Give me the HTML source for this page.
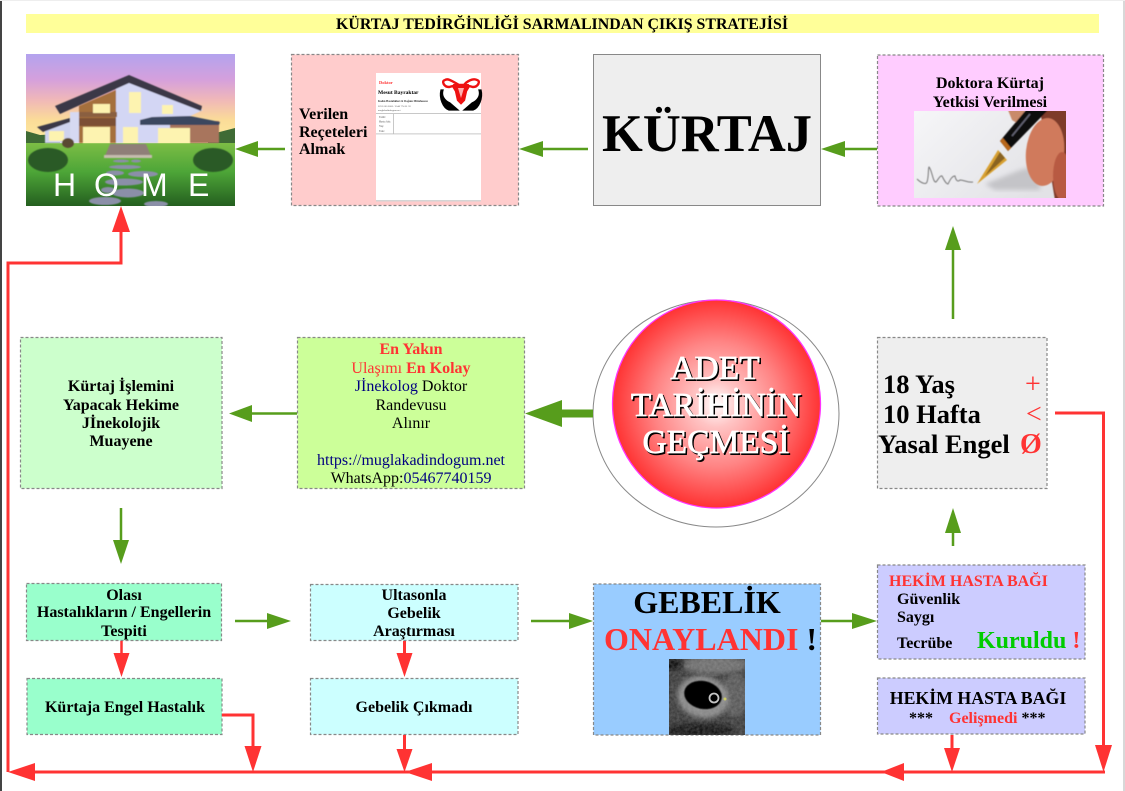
<!DOCTYPE html>
<html><head><meta charset="utf-8"><style>
html,body{margin:0;padding:0;background:#fff;width:1125px;height:791px;overflow:hidden}
svg{display:block}
text{font-family:"Liberation Serif",serif}
.b{font-weight:bold}
.c{text-anchor:middle}
.t15{font-size:16px;font-weight:bold;text-anchor:middle;fill:#000}
.r15{font-size:16px;text-anchor:middle;fill:#000}
.box{stroke:#888;stroke-width:1.2;stroke-dasharray:3 2}
</style></head><body>
<svg width="1125" height="791" viewBox="0 0 1125 791" xmlns="http://www.w3.org/2000/svg">
<defs>
<linearGradient id="sky" x1="0" y1="0" x2="0" y2="1"><stop offset="0" stop-color="#b3a3ee"/><stop offset=".28" stop-color="#d5a0dc"/><stop offset=".5" stop-color="#f0b8b8"/><stop offset=".72" stop-color="#fbdc98"/><stop offset="1" stop-color="#fdeea0"/></linearGradient>
<linearGradient id="grass" x1="0" y1="0" x2="0" y2="1"><stop offset="0" stop-color="#7cbd45"/><stop offset=".45" stop-color="#4ea638"/><stop offset="1" stop-color="#245f1f"/></linearGradient>
<radialGradient id="ball" cx=".5" cy=".5" r=".5"><stop offset="0" stop-color="#fff"/><stop offset=".22" stop-color="#ffc4c4"/><stop offset=".6" stop-color="#ff8484"/><stop offset="1" stop-color="#ff3333"/></radialGradient>
<linearGradient id="paper" x1="0" y1="0" x2="1" y2=".6"><stop offset="0" stop-color="#f6f6f8"/><stop offset="1" stop-color="#e2e2e6"/></linearGradient>
<filter id="bl05"><feGaussianBlur stdDeviation=".5"/></filter>
<filter id="bl1"><feGaussianBlur stdDeviation="1"/></filter>
<filter id="bl2"><feGaussianBlur stdDeviation="2.5"/></filter>
<filter id="noise" x="0" y="0" width="100%" height="100%"><feTurbulence type="fractalNoise" baseFrequency=".35" numOctaves="2" seed="4"/><feColorMatrix values="0 0 0 0 .5  0 0 0 0 .5  0 0 0 0 .5  .9 0 0 0 -.2"/></filter>
<clipPath id="hc"><rect x="26" y="54" width="209" height="152"/></clipPath>
<clipPath id="pc"><rect x="914" y="111" width="152" height="87"/></clipPath>
<clipPath id="uc"><rect x="669" y="659" width="76" height="76"/></clipPath>
</defs>
<rect width="1125" height="791" fill="#fff"/>
<rect x="0" y="0" width="2" height="791" fill="#444"/>
<rect x="1123" y="0" width="2" height="791" fill="#d8d8d8"/>
<rect x="0" y="0" width="1125" height="1" fill="#eee"/>

<!-- title -->
<rect x="26" y="14" width="1073" height="19" fill="#ffff99"/>
<text x="562" y="29" class="b c" font-size="16" textLength="452" lengthAdjust="spacingAndGlyphs">KÜRTAJ TEDİRĞİNLİĞİ SARMALINDAN ÇIKIŞ STRATEJİSİ</text>

<!-- HOME image -->
<g clip-path="url(#hc)">
<rect x="26" y="54" width="209" height="92" fill="url(#sky)"/>
<path d="M26 131L40 135L60 134V146H26ZM208 135L235 128V146H208Z" fill="#3f6b35"/>
<rect x="26" y="143" width="209" height="63" fill="url(#grass)"/>
<g filter="url(#bl05)">
<path d="M116 88L130 78L203 110L186 118H170V143H116Z" fill="#d3d6f4"/>
<path d="M79 106L116 90V143H79Z" fill="#a5703c"/>
<path d="M79 112H70V143H79Z" fill="#d6d9f2"/>
<path d="M45 128L70 122V143H45Z" fill="#cfd3ee"/>
<path d="M170 121H219V143H170Z" fill="#a8755d"/>
<path d="M55 106L129 75L202 106L201 111L129 83L60 114Z" fill="#3a3846"/>
<path d="M37 127L70 118V122L43 132Z" fill="#3a3846"/>
<path d="M140 120L152 117L190 116L220 122L219 125H140Z" fill="#3b465e"/>
<rect x="79" y="112" width="38" height="5" fill="#8a5f40"/>
<rect x="79" y="118" width="37" height="8" fill="#7b4f35"/>
<g fill="#fdf3b0">
<rect x="93" y="104" width="17" height="9"/>
<rect x="129" y="92" width="12" height="21"/>
<rect x="162" y="105" width="11" height="9"/>
<rect x="83" y="127" width="27" height="16"/>
<rect x="123" y="127" width="15" height="16"/>
<rect x="158" y="128" width="32" height="15"/>
<rect x="49" y="131" width="15" height="10"/>
</g>
<path d="M110 144H146L151 156H105Z" fill="#8f7f78"/>
<rect x="104" y="155" width="48" height="3" fill="#c5bcae"/>
<ellipse cx="48" cy="160" rx="20" ry="12" fill="#2c5a25"/>
<ellipse cx="213" cy="160" rx="20" ry="12" fill="#2c5a25"/>
<ellipse cx="68" cy="143" rx="6" ry="5" fill="#5a4a30"/>
<g fill="#8b8fa8">
<ellipse cx="121" cy="161" rx="8" ry="1.5"/><ellipse cx="136" cy="161" rx="5" ry="1.5"/>
<ellipse cx="125" cy="167" rx="16" ry="2"/><ellipse cx="115" cy="173" rx="9" ry="2.5"/>
<ellipse cx="143" cy="174" rx="15" ry="3"/><ellipse cx="124" cy="182" rx="19" ry="3.5"/>
<ellipse cx="108" cy="190" rx="7" ry="3"/><ellipse cx="128" cy="193" rx="16" ry="4.5"/>
<ellipse cx="105" cy="201" rx="16" ry="4"/><ellipse cx="156" cy="204" rx="12" ry="3"/>
</g>
</g>
<text y="196" font-size="32" fill="#fff" style="font-family:'Liberation Sans',sans-serif"><tspan x="53">H</tspan><tspan x="94">O</tspan><tspan x="141">M</tspan><tspan x="188">E</tspan></text>
</g>

<!-- Recete -->
<rect x="291.500" y="54.500" width="227" height="151" fill="#ffcccc" class="box"/>
<text x="299" y="119" class="b" font-size="16">Verilen</text>
<text x="299" y="137" class="b" font-size="16">Reçeteleri</text>
<text x="299" y="154" class="b" font-size="16">Almak</text>
<rect x="376" y="73" width="105" height="128" fill="#fff"/>
<rect x="376" y="200" width="105" height="1.500" fill="#d5d5d5"/>
<text x="379" y="84" font-size="4.500" class="b" fill="#ff3333">Doktor</text>
<text x="378" y="94" font-size="5.500" class="b">Mesut Bayraktar</text>
<text x="378" y="102" font-size="2.800" class="b" fill="#333">Kadın Hastalıkları &amp; Doğum Mütehassısı</text>
<text x="378" y="107" font-size="2.500" fill="#555">0252 000 0000 / 0546 774 01 59</text>
<text x="378" y="111" font-size="2.500" fill="#555">muglakadindogum.net</text>
<rect x="376" y="113" width="105" height=".8" fill="#bbb"/>
<rect x="376" y="133.500" width="105" height=".8" fill="#bbb"/>
<rect x="393" y="114" width=".8" height="20" fill="#bbb"/>
<g font-size="2.800" fill="#555"><text x="379" y="118">Tarih:</text><text x="379" y="122.500">Hasta Adı:</text><text x="379" y="127">Yaş:</text><text x="379" y="132">Tanı:</text></g>
<path d="M459 85C452 81 448 78 445 80C441 81 444 87 449 87L453 86L456 91L458 100L461 103L464 100L466 91L469 86L473 87C478 87 481 81 477 80C473 78 467 81 464 85Z" fill="none" stroke="#ee1111" stroke-width="2.400"/>
<path d="M453 84H469L463 102H459Z" fill="#ee1111"/>
<path d="M458 88L461 98L464 88Z" fill="#ffb0b0"/>
<path d="M443 90C441 96 445 101 450 103L458 110H449C443 108 439 98 441 90ZM479 90C481 96 477 101 472 103L464 110H473C479 108 483 98 481 90Z" fill="#000" stroke="#000" stroke-width="1.300"/>

<!-- KURTAJ -->
<rect x="593.500" y="54.500" width="227" height="151" fill="#eee" stroke="#888"/>
<text x="707" y="151" class="b c" font-size="53" textLength="210" lengthAdjust="spacingAndGlyphs">KÜRTAJ</text>

<!-- Doktora -->
<rect x="877.500" y="55" width="226" height="151" fill="#ffccff" class="box"/>
<text x="990" y="88" class="t15">Doktora Kürtaj</text>
<text x="990" y="107" class="t15">Yetkisi Verilmesi</text>
<g clip-path="url(#pc)">
<rect x="914" y="111" width="152" height="87" fill="url(#paper)"/>
<path d="M985 184L1020 170L1040 165V190H995Z" fill="#c4c4c8" filter="url(#bl2)"/>
<g filter="url(#bl05)">
<path d="M1008 110H1025L1020 125L1012 120Z" fill="#c98a6a"/>
<path d="M1040 110H1068V200H1055Z" fill="#7e3a2a"/>
<ellipse cx="1045" cy="152" rx="19" ry="34" transform="rotate(6 1045 152)" fill="#d07a5c"/>
<ellipse cx="1062" cy="176" rx="9" ry="24" fill="#b85a42"/>
<path d="M1026 110L1000 141L1008 151L1048 110Z" fill="#0d0d0d"/>
<path d="M1030 114L1012 136" stroke="#667" stroke-width="1.500"/>
<path d="M1000 141L1008 151L1011 148L1003 138Z" fill="#b8671c"/>
<path d="M998 150L1007 160L977 184Z" fill="#d8a030"/>
<path d="M1000 152L1005 158L985 176Z" fill="#8a6420"/>
<path d="M917 179C921 183 926 185 927 182C929 176 928 168 929 167C932 170 933 183 936 182C938 180 940 175 942 176C944 180 946 184 948 184C950 180 952 176 955 176C956 181 958 182 960 180C964 180 968 183 973 182" fill="none" stroke="#777" stroke-width="1"/>
</g>
</g>

<!-- circle -->
<ellipse cx="716" cy="413.500" rx="123" ry="113.500" fill="#fff" stroke="#888"/>
<circle cx="716.500" cy="404" r="104" fill="url(#ball)" stroke="#ff33ff" stroke-width="1.300"/>
<g font-size="33.500" text-anchor="middle">
<g fill="#000" transform="translate(1.400,1.400)" stroke="#000" stroke-width=".9"><text x="715" y="379">ADET</text><text x="716" y="416">TARİHİNİN</text><text x="716" y="453">GEÇMESİ</text></g>
<g fill="#fff" stroke="#fff" stroke-width=".7"><text x="715" y="379">ADET</text><text x="716" y="416">TARİHİNİN</text><text x="716" y="453">GEÇMESİ</text></g>
</g>

<!-- 18 yas -->
<rect x="877.500" y="337.500" width="169.500" height="151" fill="#eee" class="box"/>
<g font-size="26.500" font-weight="bold">
<text x="883" y="393">18 Yaş</text><text x="883" y="423">10 Hafta</text><text x="878" y="453">Yasal Engel</text>
</g>
<g font-size="28" fill="#ff3333"><text x="1025" y="393">+</text><text x="1026" y="423">&lt;</text><text x="1020" y="453" font-weight="bold">Ø</text></g>

<!-- left green -->
<rect x="20.500" y="337.500" width="201.500" height="151" fill="#ccffcc" class="box"/>
<text x="121" y="391" class="t15">Kürtaj İşlemini</text>
<text x="121" y="410" class="t15">Yapacak Hekime</text>
<text x="121" y="428" class="t15">Jİnekolojik</text>
<text x="121" y="446" class="t15">Muayene</text>

<!-- whatsapp -->
<rect x="297.500" y="337.500" width="227" height="151" fill="#ccff99" class="box"/>
<text x="411" y="354" class="t15" style="fill:#ff3333">En Yakın</text>
<text x="411" y="373" class="r15" style="fill:#ff3333">Ulaşımı <tspan font-weight="bold">En Kolay</tspan></text>
<text x="411" y="391" class="r15"><tspan fill="#000080">Jİnekolog</tspan> Doktor</text>
<text x="411" y="410" class="r15">Randevusu</text>
<text x="411" y="428" class="r15">Alınır</text>
<text x="411" y="465" class="r15" style="fill:#000080">https://muglakadindogum.net</text>
<text x="411" y="483" class="r15">WhatsApp:<tspan fill="#000080">05467740159</tspan></text>

<!-- bottom boxes -->
<rect x="26.500" y="583.500" width="195" height="57" fill="#99ffcc" class="box"/>
<text x="124" y="600" class="t15">Olası</text>
<text x="124" y="617" class="t15">Hastalıkların / Engellerin</text>
<text x="124" y="636" class="t15">Tespiti</text>
<rect x="27" y="678.500" width="195" height="56" fill="#99ffcc" class="box"/>
<text x="125" y="712" class="t15">Kürtaja Engel Hastalık</text>

<rect x="310.500" y="584.500" width="207.500" height="56" fill="#ccffff" class="box"/>
<text x="414" y="600" class="t15">Ultasonla</text>
<text x="414" y="618" class="t15">Gebelik</text>
<text x="414" y="636" class="t15">Araştırması</text>
<rect x="310.500" y="678.500" width="207.500" height="56" fill="#ccffff" class="box"/>
<text x="414" y="712" class="t15">Gebelik Çıkmadı</text>

<rect x="593.500" y="584" width="227" height="151" fill="#99ccff" class="box"/>
<text x="707" y="613" class="b c" font-size="32" font-weight="bold">GEBELİK</text>
<text x="604" y="650" font-size="32"><tspan fill="#ff3333" font-weight="bold">ONAYLANDI</tspan><tspan font-weight="bold"> !</tspan></text>
<g clip-path="url(#uc)">
<rect x="669" y="659" width="76" height="76" fill="#3c3c3c"/>
<ellipse cx="715" cy="665" rx="32" ry="9" fill="#707070" filter="url(#bl2)"/>
<ellipse cx="672" cy="664" rx="10" ry="6" fill="#111" filter="url(#bl2)"/>
<ellipse cx="735" cy="695" rx="14" ry="22" fill="#5a5a5a" filter="url(#bl2)"/>
<ellipse cx="700" cy="730" rx="34" ry="7" fill="#161616" filter="url(#bl2)"/>
<ellipse cx="703" cy="697" rx="26" ry="21" transform="rotate(12 703 697)" fill="#8a8a8a" filter="url(#bl2)"/>
<rect x="669" y="659" width="76" height="76" filter="url(#noise)" opacity=".45"/>
<ellipse cx="703" cy="695" rx="19" ry="14" transform="rotate(12 703 695)" fill="#000" filter="url(#bl05)"/>
<circle cx="714" cy="698" r="4.500" fill="none" stroke="#c4c4c4" stroke-width="1.800"/>
<circle cx="725" cy="699" r="1.500" fill="#cc6"/>
</g>

<rect x="877.500" y="565" width="207.500" height="94" fill="#ccccff" class="box"/>
<text x="889" y="586" font-size="16" fill="#ff3333" font-weight="bold">HEKİM HASTA BAĞI</text>
<text x="897" y="604" font-size="16" font-weight="bold">Güvenlik</text>
<text x="897" y="622" font-size="16" font-weight="bold">Saygı</text>
<text x="897" y="648" font-size="16" font-weight="bold">Tecrübe</text>
<text x="977" y="648" font-size="24" font-weight="bold" fill="#00cc00">Kuruldu <tspan fill="#ff3333">!</tspan></text>

<rect x="877.500" y="678" width="207.500" height="56" fill="#ccccff" class="box"/>
<text x="978" y="704" font-size="17.800" font-weight="bold" text-anchor="middle">HEKİM HASTA BAĞI</text>
<text x="909" y="723" font-size="16" font-weight="bold">***<tspan dx="16" fill="#ff3333">Gelişmedi</tspan> ***</text>

<!-- green connectors -->
<g stroke="#579d1c" stroke-width="2.500" fill="none">
<path d="M285 149H256M588 149H541M877 149H843M953 319V248M953 546V531M297 413.500H250M121 508V542M235 621H269M531 621H571M821 621H854"/>
<path d="M593 413.500H560" stroke-width="8"/>
</g>
<g fill="#579d1c">
<path d="M235 149L258 141V157Z"/>
<path d="M519 149L543 141V157Z"/>
<path d="M821 149L845 141V157Z"/>
<path d="M953 226L945 250H961Z"/>
<path d="M953 508L945 533H961Z"/>
<path d="M525 413.500L562 400V427Z"/>
<path d="M229 413.500L252 405V422Z"/>
<path d="M121 564L113 540H129Z"/>
<path d="M291 621L267 613V629Z"/>
<path d="M593 621L569 613V629Z"/>
<path d="M877 621L852 613V629Z"/>
</g>

<!-- red connectors -->
<g stroke="#ff3333" stroke-width="3" fill="none" stroke-linejoin="miter">
<path d="M1105 772H30"/>
<path d="M1055 413H1103.500V748"/>
<path d="M8 772V263H121V230"/>
<path d="M121.500 641V655" stroke-width="2.500"/>
<path d="M404.500 641V655"/>
<path d="M222 715H253V748"/>
<path d="M404.500 735V751"/>
<path d="M952 735V750"/>
</g>
<g fill="#ff3333">
<path d="M8 772L35 763V781Z"/>
<path d="M405 772L432 763V781Z"/>
<path d="M881 772L904 763V781Z"/>
<path d="M121 206L112 232H130Z"/>
<path d="M121.500 677L113.500 653H129.500Z"/>
<path d="M404.500 677L396.500 653H412.500Z"/>
<path d="M253 772L244.500 746H261.500Z"/>
<path d="M404.500 772L396.500 749H412.500Z"/>
<path d="M952 772L944 748H960Z"/>
<path d="M1103.500 772L1095 745H1112Z"/>
</g>
</svg>
</body></html>
